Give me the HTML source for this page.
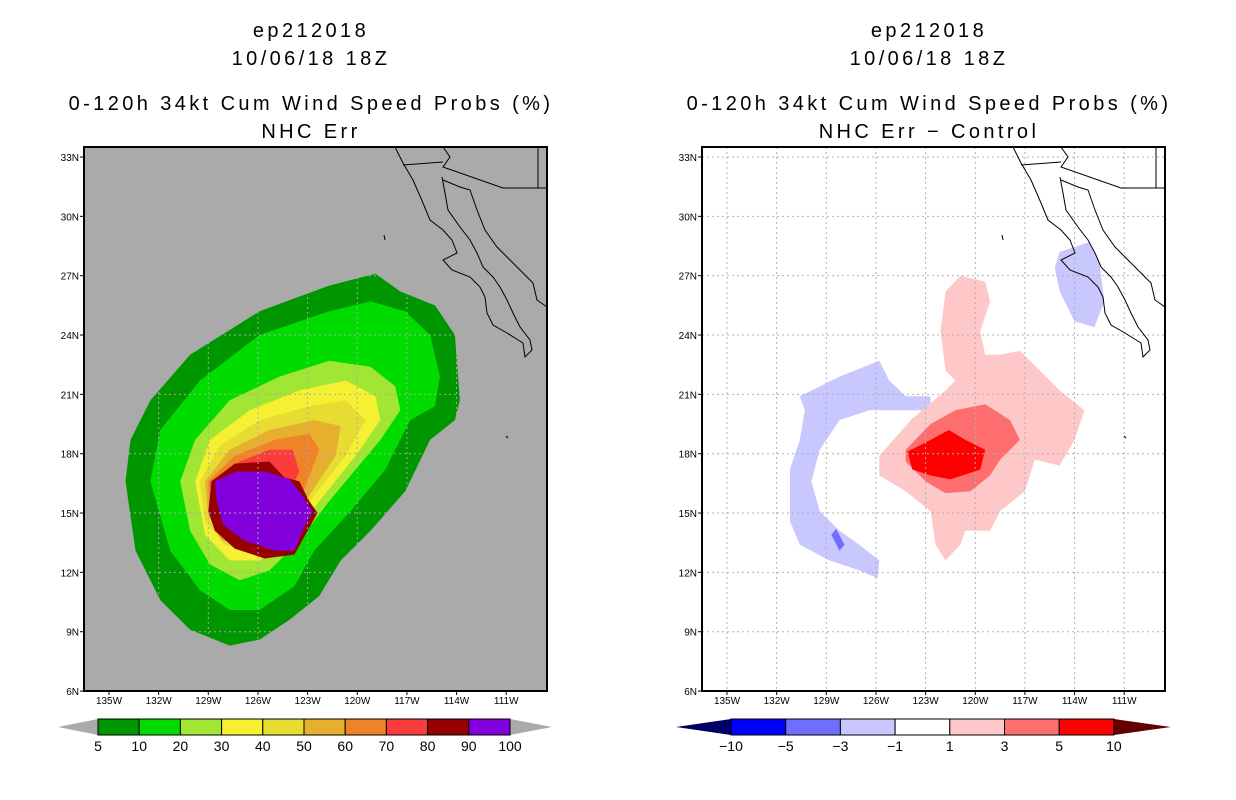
<!DOCTYPE html>
<html><head><meta charset="utf-8">
<style>
body{margin:0;background:#fff;}
svg{display:block;font-family:"Liberation Sans",sans-serif;}
.t{font-size:20px;letter-spacing:3.4px;text-anchor:middle;fill:#000}
.tk{font-size:10px;fill:#000}
.cb{font-size:14px;text-anchor:middle;fill:#000}
</style></head>
<body>
<svg id="root" width="1236" height="800" viewBox="0 0 1236 800">
<g>
<text class="t" x="311" y="37">ep212018</text>
<text class="t" x="311" y="65">10/06/18 18Z</text>
<text class="t" x="311" y="110">0-120h 34kt Cum Wind Speed Probs (%)</text>
<text class="t" x="311" y="138">NHC Err</text>
</g>
<g>
<text class="t" x="929" y="37">ep212018</text>
<text class="t" x="929" y="65">10/06/18 18Z</text>
<text class="t" x="929" y="110">0-120h 34kt Cum Wind Speed Probs (%)</text>
<text class="t" x="929" y="138">NHC Err − Control</text>
</g>
<g id="left"></g>
<g id="right"></g>
<g id="cbL"></g>
<g id="cbR"></g>
</svg>
<script>
// ---- axis data ----
const latTicks=[33,30,27,24,21,18,15,12,9,6];
const lonTicks=[-135,-132,-129,-126,-123,-120,-117,-114,-111];
// ---- left: probability contours (lon,lat) ----
const probLevels=[5,10,20,30,40,50,60,70,80,90];
const probColors=['#009600','#00dc00','#a0e632','#f5f032','#e6dc32','#e6af2d','#f08228','#fa3c3c','#960000','#8200dc'];
const c5=[[-134.0,16.6],[-133.7,18.7],[-132.5,20.7],[-130.1,23.0],[-125.9,25.2],[-121.7,26.5],[-118.9,27.1],[-117.4,26.2],[-115.3,25.5],[-114.1,24.0],[-113.8,20.7],[-114.1,19.7],[-115.6,18.7],[-117.1,16.1],[-119.2,14.1],[-121.0,12.6],[-122.3,10.8],[-124.1,9.6],[-125.9,8.6],[-127.7,8.3],[-130.1,9.1],[-131.9,10.6],[-133.4,13.1]];
const c10=[[-132.5,16.6],[-131.9,19.2],[-129.5,21.7],[-125.9,24.0],[-121.7,25.2],[-119.2,25.7],[-117.1,25.2],[-115.6,24.0],[-115.0,21.9],[-115.3,20.4],[-116.8,19.7],[-118.3,17.2],[-120.4,15.1],[-122.6,13.1],[-123.8,11.3],[-125.9,10.1],[-127.7,10.1],[-129.5,11.1],[-131.3,13.1]];
const c20=[[-130.7,16.6],[-129.8,18.7],[-127.7,20.7],[-124.7,21.9],[-121.7,22.7],[-119.2,22.4],[-117.7,21.4],[-117.4,20.2],[-118.6,18.7],[-120.1,17.2],[-121.7,15.6],[-123.5,13.6],[-125.3,12.1],[-127.1,11.6],[-128.9,12.4],[-130.1,14.1]];
const c30=[[-129.8,16.6],[-128.9,18.7],[-126.5,20.2],[-123.5,21.2],[-120.7,21.7],[-118.9,20.9],[-118.6,19.7],[-120.1,17.9],[-122.3,15.6],[-124.1,13.6],[-125.9,12.6],[-127.7,12.6],[-129.2,13.9]];
const c40=[[-129.5,16.6],[-128.3,18.4],[-125.9,19.7],[-122.9,20.4],[-120.7,20.7],[-119.5,19.7],[-120.7,17.9],[-122.6,15.9],[-124.4,13.9],[-126.2,13.1],[-128.0,13.4],[-129.2,14.6]];
const c50=[[-129.2,16.6],[-127.7,18.2],[-125.3,19.2],[-122.6,19.7],[-121.0,19.4],[-121.3,17.9],[-122.9,15.9],[-124.7,14.1],[-126.5,13.4],[-128.2,13.6],[-129.0,14.9]];
const c60=[[-129.0,16.6],[-127.4,17.9],[-125.0,18.7],[-122.9,19.0],[-122.3,18.2],[-123.2,16.2],[-124.7,14.4],[-126.5,13.6],[-128.2,13.9],[-128.9,15.1]];
const c70=[[-128.9,16.6],[-127.1,17.6],[-125.3,18.2],[-123.9,18.2],[-123.5,17.1],[-124.1,16.1],[-124.4,14.6],[-126.5,13.9],[-128.2,14.1],[-128.8,14.9]];
const c80=[[-128.8,16.6],[-127.4,17.5],[-125.3,17.6],[-124.4,16.8],[-123.5,16.6],[-122.9,15.6],[-122.4,15.0],[-123.2,13.8],[-123.8,12.9],[-125.6,12.7],[-127.4,13.2],[-128.6,14.1],[-129.0,15.1]];
const c90=[[-128.6,16.6],[-127.3,17.1],[-125.6,17.1],[-124.1,16.7],[-123.5,16.1],[-122.7,15.1],[-123.3,14.1],[-123.8,13.1],[-125.0,13.1],[-126.8,13.6],[-128.1,14.4],[-128.5,15.6]];
const probContours=[c5,c10,c20,c30,c40,c50,c60,c70,c80,c90];
// ---- right: difference contours ----
const diffLevels=[-10,-5,-3,-1,1,3,5,10];
const diffColors=['#0000ff','#6e6eff','#c8c8ff','#ffffff','#ffc8c8','#ff6e6e','#ff0000'];
const pink1=[[-125.8,17.9],[-123.9,19.7],[-121.8,21.2],[-121.2,21.7],[-121.8,22.2],[-122.1,24.2],[-121.8,26.2],[-120.9,27.0],[-119.4,26.7],[-119.1,25.7],[-119.7,24.2],[-119.4,23.0],[-118.5,23.0],[-117.3,23.2],[-116.1,22.2],[-114.9,21.2],[-113.4,20.2],[-114.0,18.7],[-114.9,17.4],[-116.4,17.7],[-117.0,16.1],[-118.5,15.1],[-119.1,14.1],[-120.6,14.1],[-120.9,13.4],[-121.8,12.6],[-122.4,13.4],[-122.7,15.1],[-124.2,16.1],[-125.8,16.9]];
const red3=[[-124.2,18.2],[-122.7,19.5],[-121.2,20.2],[-119.4,20.5],[-117.9,19.7],[-117.3,18.7],[-118.5,17.7],[-119.1,16.9],[-120.3,16.1],[-121.8,16.0],[-123.0,16.6],[-124.2,17.6]];
const red5=[[-124.1,18.1],[-122.7,18.7],[-121.6,19.2],[-120.6,18.7],[-119.4,18.2],[-119.7,17.2],[-121.5,16.7],[-122.7,16.9],[-123.8,17.2]];
const blue1=[[-130.6,20.9],[-128.2,21.9],[-125.8,22.7],[-125.2,21.7],[-124.2,20.9],[-122.7,20.9],[-122.7,20.2],[-124.2,20.2],[-126.4,20.2],[-128.2,19.7],[-129.4,18.2],[-129.9,16.6],[-129.4,15.1],[-128.2,14.1],[-127.0,13.4],[-125.8,12.6],[-125.9,11.7],[-127.0,12.1],[-128.8,12.6],[-130.6,13.4],[-131.2,14.6],[-131.2,17.2],[-130.6,18.7],[-130.3,20.2]];
const blue2=[[-114.9,28.2],[-113.1,28.7],[-112.5,27.7],[-112.2,25.7],[-112.8,24.4],[-114.0,24.7],[-114.9,26.2],[-115.2,27.4]];
const blue3a=[[-128.7,13.9],[-128.2,13.1],[-127.9,13.4],[-128.4,14.2]];
const diffShapes=[blue1,blue2,pink1,red3,red5,blue3a];
const diffShapeLevel=[-1,-1,1,3,5,-3];

const NS='http://www.w3.org/2000/svg';
function mk(tag,attrs,parent){const e=document.createElementNS(NS,tag);for(const k in attrs)e.setAttribute(k,attrs[k]);parent.appendChild(e);return e;}
function xS(lon,off){return off+109+(lon+135)*16.55;}
function yS(lat){return 157+(33-lat)*19.78;}
function ptsStr(poly,off){return poly.map(p=>xS(p[0],off).toFixed(1)+','+yS(p[1]).toFixed(1)).join(' ');}

const coast="M395,147 L403,163 L413,180 L423,203 L430,220 L443,230 L452,240 L457,253 L443,260 L452,270 L470,277 L480,287 L485,297 L487,313 L493,325 L507,333 L523,343 L525,357 L532,350 L530,340 L520,327 L513,313 L507,300 L500,287 L493,277 L483,267 L477,253 L470,240 L460,227 L448,210 L445,193 L442,177 M443,180 L460,187 L470,190 L477,210 L485,230 L497,247 L510,260 L520,270 L533,283 L537,300 L547,307 M403,165 L443,162 M443,147 L450,157 L443,167 L503,188 L547,188 M538,147 L538,188 M384,235 L385,240 M506,436 L508,438";

function panel(g,off,bg,isLeft){
  const L=off+84,R=off+547,T=147,B=691;
  const cp=mk('clipPath',{id:'clip'+off},g);mk('rect',{x:L,y:T,width:R-L,height:B-T},cp);
  const bgR=mk('rect',{x:L,y:T,width:R-L,height:B-T,fill:bg},g);
  
  
  const inner=mk('g',{'clip-path':'url(#clip'+off+')'},g);
  if(isLeft){
    probContours.forEach((poly,i)=>{
      const p=mk('polygon',{points:ptsStr(poly,off),fill:probColors[i]},inner);
      
      
    });
  } else {
    diffShapes.forEach((poly,i)=>{
      const lv=diffShapeLevel[i];
      const idx=diffLevels.indexOf(lv);
      const col=lv>0?diffColors[idx]:diffColors[idx-1];
      const p=mk('polygon',{points:ptsStr(poly,off),fill:col},inner);
      
      
    });
  }
  const grid=mk('g',{stroke:isLeft?'#aaaaaa':'#b0b0b0','stroke-width':1,'stroke-dasharray':'2,3'},inner);
  
  
  lonTicks.forEach(l=>mk('line',{x1:xS(l,off),x2:xS(l,off),y1:T,y2:B},grid));
  latTicks.forEach(l=>mk('line',{x1:L,x2:R,y1:yS(l),y2:yS(l)},grid));
  const c=mk('path',{d:coast,fill:'none',stroke:'#000','stroke-width':1,transform:'translate('+off+',0)'},inner);
  
  
  const fr=mk('rect',{x:L,y:T,width:R-L,height:B-T,fill:'none',stroke:'#000','stroke-width':2},g);
  
  
  const ax=mk('g',{},g);
  
  
  latTicks.forEach(l=>{
    mk('line',{x1:L-4,x2:L,y1:yS(l),y2:yS(l),stroke:'#000'},ax);
    const t=mk('text',{x:L-5,y:yS(l)+4,'text-anchor':'end',class:'tk'},ax);
    t.textContent=l+'N';
    
    
  });
  lonTicks.forEach(l=>{
    mk('line',{x1:xS(l,off),x2:xS(l,off),y1:B,y2:B+4,stroke:'#000'},ax);
    const t=mk('text',{x:xS(l,off),y:B+13,'text-anchor':'middle',class:'tk'},ax);
    t.textContent=(-l)+'W';
    
    
  });
}
panel(document.getElementById('left'),0,'#aaaaaa',true);
panel(document.getElementById('right'),618,'#ffffff',false);

function colorbar(g,x0,w,tipL,tipR,cols,labels,triL,triR){
  const y0=719,y1=735,ym=727;
  const tl=mk('polygon',{points:`${tipL},${ym} ${x0},${y0} ${x0},${y1}`,fill:triL,stroke:'none'},g);
  
  
  const xe=x0+w*cols.length;
  const tr=mk('polygon',{points:`${tipR},${ym} ${xe},${y0} ${xe},${y1}`,fill:triR,stroke:'none'},g);
  
  
  cols.forEach((c,i)=>{
    const r=mk('rect',{x:x0+i*w,y:y0,width:w,height:y1-y0,fill:c,stroke:'#000','stroke-width':1},g);
    
    
  });
  labels.forEach((lb,i)=>{
    const t=mk('text',{x:x0+i*w,y:751,class:'cb'},g);
    t.textContent=String(lb).replace('-','−');
    
    
  });
}
colorbar(document.getElementById('cbL'),98,41.2,58,552,probColors,[5,10,20,30,40,50,60,70,80,90,100],'#aaaaaa','#aaaaaa');
colorbar(document.getElementById('cbR'),731,54.7,676,1171,diffColors,diffLevels,'#000064','#640000');
</script>
</body></html>
